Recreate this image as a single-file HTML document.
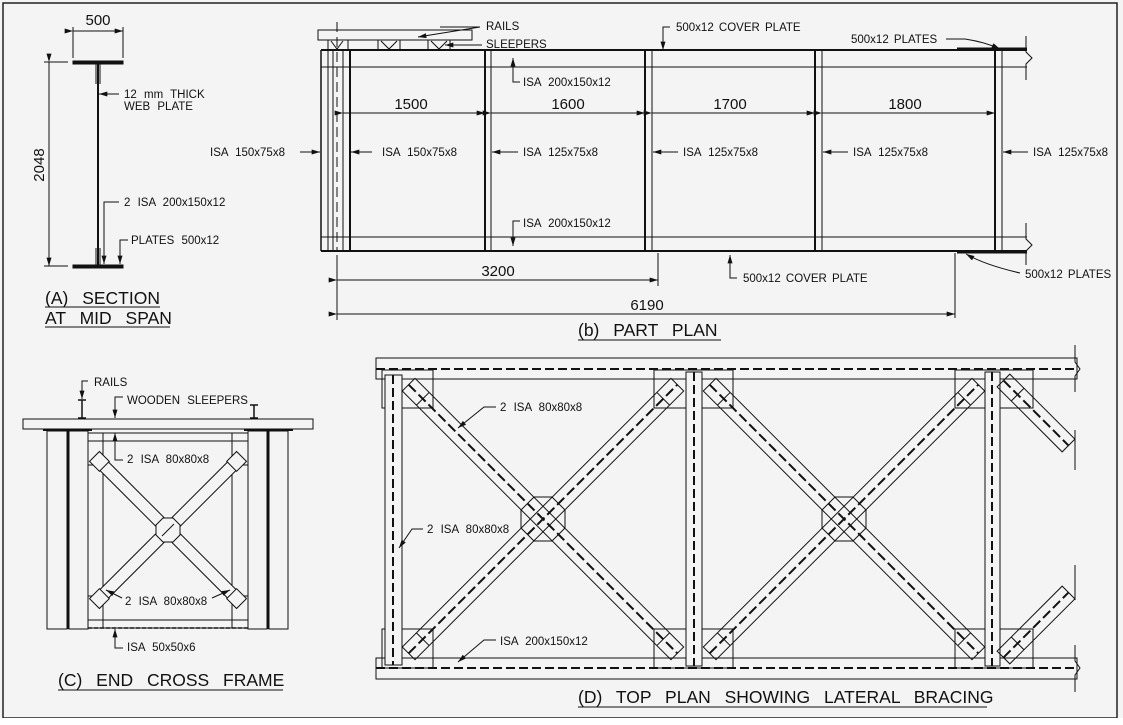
<!DOCTYPE html>
<html><head><meta charset="utf-8"><style>
html,body{margin:0;padding:0;background:#fff}
svg{display:block}
text{font-family:"Liberation Sans",sans-serif;fill:#111}
.l{word-spacing:4px}
.t{word-spacing:9px;font-size:17.5px}
</style></head><body>
<svg width="1123" height="725" viewBox="0 0 1123 725" xmlns="http://www.w3.org/2000/svg">
<defs>
<marker id="ar" viewBox="0 0 10 6" refX="10" refY="3" markerWidth="9" markerHeight="5" orient="auto" markerUnits="userSpaceOnUse"><path d="M0,0 L10,3 L0,6 z" fill="#111"/></marker>
</defs>
<rect x="0" y="0" width="1123" height="725" fill="#f4f4f4"/>
<rect x="3" y="3" width="1114" height="715" fill="#f4f4f4" stroke="#222" stroke-width="1.5"/>
<rect x="0" y="718" width="1123" height="7" fill="#fff"/>
<g stroke="#111" fill="none" stroke-width="1">
<!-- ===== A SECTION ===== -->
<rect x="73" y="61" width="50" height="3" fill="#111"/>
<rect x="73" y="265" width="50" height="3" fill="#111"/>
<line x1="98" y1="64" x2="98" y2="265" stroke-width="2"/>
<line x1="96" y1="64" x2="96" y2="84" /><line x1="100" y1="64" x2="100" y2="84"/>
<line x1="96" y1="248" x2="96" y2="265"/><line x1="100" y1="248" x2="100" y2="265"/>
<line x1="73" y1="27" x2="73" y2="58"/><line x1="123" y1="27" x2="123" y2="58"/>
<line x1="73" y1="31" x2="123" y2="31" marker-start="url(#ar)" marker-end="url(#ar)"/>
<line x1="44" y1="62" x2="68" y2="62"/><line x1="44" y1="266" x2="68" y2="266"/>
<line x1="49" y1="62" x2="49" y2="266" marker-start="url(#ar)" marker-end="url(#ar)"/>
<line x1="119" y1="94" x2="99" y2="94" marker-end="url(#ar)"/>
<polyline points="119,202 104,202 104,264" marker-end="url(#ar)"/>
<polyline points="128,240 120,240 120,264" marker-end="url(#ar)"/>
<line x1="45" y1="307" x2="160" y2="307"/>
<line x1="45" y1="327" x2="170" y2="327"/>
<!-- ===== B PART PLAN ===== -->
<rect x="318" y="30" width="154" height="10"/>
<rect x="328" y="40" width="20" height="10"/><rect x="378" y="40" width="22" height="10"/><rect x="428" y="40" width="22" height="10"/>
<path d="M331,41 l6,8 l6,-8 M381,41 l8,8 l8,-8 M431,41 l8,8 l8,-8"/>
<line x1="321" y1="50" x2="1027" y2="50" stroke-width="2"/>
<line x1="957" y1="49" x2="1027" y2="49" stroke-width="3"/>
<line x1="321" y1="67" x2="1027" y2="67"/>
<line x1="321" y1="237" x2="1027" y2="237"/>
<line x1="321" y1="251" x2="1027" y2="251" stroke-width="2"/>
<line x1="957" y1="252" x2="1027" y2="252" stroke-width="3"/>
<line x1="321" y1="50" x2="321" y2="251" stroke-width="1.5"/>
<line x1="328" y1="50" x2="328" y2="251"/><line x1="333" y1="50" x2="333" y2="251"/>
<line x1="337" y1="22" x2="337" y2="251" stroke-dasharray="10,5"/>
<line x1="343" y1="50" x2="343" y2="251"/><line x1="350" y1="50" x2="350" y2="251" stroke-width="2"/>
<line x1="485" y1="50" x2="485" y2="251" stroke-width="2"/><line x1="491" y1="50" x2="491" y2="251"/>
<line x1="645" y1="50" x2="645" y2="251" stroke-width="2"/><line x1="652" y1="50" x2="652" y2="251"/>
<line x1="815" y1="50" x2="815" y2="251" stroke-width="2"/><line x1="822" y1="50" x2="822" y2="251"/>
<line x1="995" y1="50" x2="995" y2="251" stroke-width="2"/><line x1="1002" y1="50" x2="1002" y2="251"/>
<polyline points="1026,36 1026,52 1032,58 1026,64 1026,80"/>
<polyline points="1026,223 1026,239 1032,245 1026,251 1026,265"/>
<line x1="343" y1="113" x2="485" y2="113" marker-start="url(#ar)" marker-end="url(#ar)"/>
<line x1="491" y1="113" x2="645" y2="113" marker-start="url(#ar)" marker-end="url(#ar)"/>
<line x1="652" y1="113" x2="815" y2="113" marker-start="url(#ar)" marker-end="url(#ar)"/>
<line x1="822" y1="113" x2="995" y2="113" marker-start="url(#ar)" marker-end="url(#ar)"/>
<line x1="300" y1="152" x2="320" y2="152" marker-end="url(#ar)"/>
<line x1="372" y1="152" x2="351" y2="152" marker-end="url(#ar)"/>
<line x1="518" y1="152" x2="492" y2="152" marker-end="url(#ar)"/>
<line x1="678" y1="152" x2="653" y2="152" marker-end="url(#ar)"/>
<line x1="848" y1="152" x2="823" y2="152" marker-end="url(#ar)"/>
<line x1="1028" y1="152" x2="1003" y2="152" marker-end="url(#ar)"/>
<polyline points="520,82 513,82 513,58" marker-end="url(#ar)"/>
<polyline points="520,221 513,221 513,246" marker-end="url(#ar)"/>
<line x1="337" y1="255" x2="337" y2="320"/>
<line x1="658" y1="253" x2="658" y2="286"/>
<line x1="955" y1="253" x2="955" y2="318"/>
<line x1="337" y1="280" x2="658" y2="280" marker-start="url(#ar)" marker-end="url(#ar)"/>
<line x1="337" y1="314" x2="955" y2="314" marker-start="url(#ar)" marker-end="url(#ar)"/>
<polyline points="737,278 730,278 730,255" marker-end="url(#ar)"/>
<polyline points="670,27 663,27 663,50" marker-end="url(#ar)"/>
<path d="M440,27 L480,27 M480,27 L418,37" marker-end="url(#ar)"/>
<line x1="482" y1="45" x2="445" y2="45" marker-end="url(#ar)"/>
<path d="M946,39 L965,39 Q985,42 1000,49" marker-end="url(#ar)"/>
<path d="M1020,273 Q985,265 966,254" marker-end="url(#ar)"/>
<line x1="578" y1="340" x2="721" y2="340"/>
<!-- ===== C END CROSS FRAME ===== -->
<rect x="23" y="419" width="290" height="10"/>
<rect x="47" y="431" width="20" height="198"/>
<line x1="68" y1="431" x2="68" y2="629" stroke-width="2.5"/>
<rect x="69" y="431" width="19" height="198"/>
<rect x="248" y="431" width="19" height="198"/>
<line x1="268" y1="431" x2="268" y2="629" stroke-width="2.5"/>
<rect x="269" y="431" width="19" height="198"/>
<line x1="43" y1="430" x2="92" y2="430" stroke-width="2"/>
<line x1="244" y1="430" x2="293" y2="430" stroke-width="2"/>
<rect x="88" y="433" width="160" height="8"/>
<rect x="88" y="620" width="160" height="8"/>
<line x1="88" y1="628" x2="248" y2="628" stroke-dasharray="4,2" stroke-width="1.5"/>
<line x1="103" y1="433" x2="103" y2="628"/><line x1="232" y1="433" x2="232" y2="628"/>
<line x1="88" y1="465" x2="103" y2="465"/><line x1="232" y1="465" x2="248" y2="465"/>
<line x1="88" y1="596" x2="103" y2="596"/><line x1="232" y1="596" x2="248" y2="596"/>
<g transform="translate(168,530) rotate(45)">
<rect x="-102" y="-6" width="204" height="12" fill="#f4f4f4"/>
<rect x="-104" y="-7" width="14" height="14" fill="#f4f4f4"/><rect x="90" y="-7" width="14" height="14" fill="#f4f4f4"/>
</g>
<g transform="translate(168,530) rotate(-45)">
<rect x="-102" y="-6" width="204" height="12" fill="#f4f4f4"/>
<rect x="-104" y="-7" width="14" height="14" fill="#f4f4f4"/><rect x="90" y="-7" width="14" height="14" fill="#f4f4f4"/>
</g>
<polygon points="163,518 173,518 180,525 180,535 173,542 163,542 156,535 156,525" fill="#f4f4f4"/>
<line x1="162" y1="536" x2="174" y2="524"/>
<path d="M78,400 h8 M82,400 v18 M78,418 h8" stroke-width="1.5"/>
<path d="M250,405 h8 M254,405 v13 M250,418 h8" stroke-width="1.5"/>
<polyline points="88,381 82,381 82,399" marker-end="url(#ar)"/>
<polyline points="123,397 115,397 115,418" marker-end="url(#ar)"/>
<polyline points="123,460 115,460 115,433" marker-end="url(#ar)"/>
<line x1="122" y1="598" x2="106" y2="590" marker-end="url(#ar)"/>
<line x1="212" y1="598" x2="230" y2="590" marker-end="url(#ar)"/>
<polyline points="123,648 115,648 115,629" marker-end="url(#ar)"/>
<line x1="58" y1="690" x2="283" y2="690"/>
<!-- ===== D TOP PLAN ===== -->
<rect x="376" y="358" width="701" height="21"/>
<rect x="376" y="658" width="701" height="21"/>
<line x1="376" y1="369" x2="1077" y2="369" stroke-dasharray="9,4" stroke-width="2"/>
<line x1="376" y1="668" x2="1077" y2="668" stroke-dasharray="9,4" stroke-width="2"/>
<polyline points="1075,345 1075,362 1080,369 1075,376 1075,392"/>
<polyline points="1075,645 1075,661 1080,668 1075,675 1075,692"/>
<polyline points="1075,430 1075,470"/><polyline points="1075,565 1075,600"/>
<rect x="382" y="370" width="51" height="38"/><rect x="382" y="629" width="51" height="39"/>
<rect x="654" y="370" width="79" height="38"/><rect x="654" y="629" width="79" height="39"/>
<rect x="955" y="370" width="78" height="38"/><rect x="955" y="629" width="78" height="39"/>
<rect x="385" y="375" width="17" height="290" fill="#f4f4f4"/>
<line x1="393" y1="375" x2="393" y2="665" stroke-dasharray="9,4" stroke-width="2"/>
<rect x="686" y="372" width="16" height="294" fill="#f4f4f4"/>
<line x1="694" y1="372" x2="694" y2="666" stroke-dasharray="9,4" stroke-width="2"/>
<rect x="985" y="372" width="15" height="294" fill="#f4f4f4"/>
<line x1="992" y1="372" x2="992" y2="666" stroke-dasharray="9,4" stroke-width="2"/>
<g id="xb">
<g transform="translate(543,519) rotate(45)">
<rect x="-190" y="-9" width="380" height="18" fill="none"/>
<line x1="-190" y1="0" x2="190" y2="0" stroke-dasharray="10,4" stroke-width="2"/>
<line x1="-170" y1="-9" x2="-170" y2="9"/><line x1="170" y1="-9" x2="170" y2="9"/>
</g>
<g transform="translate(543,519) rotate(-45)">
<rect x="-190" y="-9" width="380" height="18" fill="none"/>
<line x1="-190" y1="0" x2="190" y2="0" stroke-dasharray="10,4" stroke-width="2"/>
<line x1="-170" y1="-9" x2="-170" y2="9"/><line x1="170" y1="-9" x2="170" y2="9"/>
</g>
<polygon points="534,497 552,497 565,510 565,528 552,541 534,541 521,528 521,510" fill="none"/>
</g>
<use href="#xb" transform="translate(301,0)"/>
<g transform="translate(1036,413) rotate(45)">
<rect x="-46" y="-9" width="92" height="18"/>
<line x1="-46" y1="0" x2="46" y2="0" stroke-dasharray="10,4" stroke-width="2"/>
<line x1="-26" y1="-9" x2="-26" y2="9"/>
</g>
<g transform="translate(1036,625) rotate(-45)">
<rect x="-46" y="-9" width="92" height="18"/>
<line x1="-46" y1="0" x2="46" y2="0" stroke-dasharray="10,4" stroke-width="2"/>
<line x1="-26" y1="-9" x2="-26" y2="9"/>
</g>
<polyline points="496,407 484,407 458,428" marker-end="url(#ar)"/>
<polyline points="423,529 412,529 399,548" marker-end="url(#ar)"/>
<polyline points="496,640 484,640 458,662" marker-end="url(#ar)"/>
<line x1="578" y1="707" x2="987" y2="707"/>
</g>
<g font-size="11.5" class="l">
<text x="98" y="25" font-size="15" text-anchor="middle">500</text>
<text transform="translate(44,165) rotate(-90)" font-size="15" text-anchor="middle">2048</text>
<text x="124" y="98">12 mm THICK</text>
<text x="124" y="110">WEB PLATE</text>
<text x="124" y="206">2 ISA 200x150x12</text>
<text x="131" y="244">PLATES 500x12</text>
<text x="45" y="304" class="t">(A) SECTION</text>
<text x="45" y="324" class="t">AT MID SPAN</text>
<text x="486" y="30">RAILS</text>
<text x="486" y="48">SLEEPERS</text>
<text x="676" y="31" style="word-spacing:2px">500x12 COVER PLATE</text>
<text x="851" y="43" style="word-spacing:2px">500x12 PLATES</text>
<text x="523" y="86">ISA 200x150x12</text>
<text x="523" y="227">ISA 200x150x12</text>
<text x="411" y="109" font-size="15" text-anchor="middle">1500</text>
<text x="568" y="109" font-size="15" text-anchor="middle">1600</text>
<text x="730" y="109" font-size="15" text-anchor="middle">1700</text>
<text x="905" y="109" font-size="15" text-anchor="middle">1800</text>
<text x="210" y="156">ISA 150x75x8</text>
<text x="382" y="156">ISA 150x75x8</text>
<text x="523" y="156">ISA 125x75x8</text>
<text x="683" y="156">ISA 125x75x8</text>
<text x="853" y="156">ISA 125x75x8</text>
<text x="1033" y="156">ISA 125x75x8</text>
<text x="498" y="276" font-size="15" text-anchor="middle">3200</text>
<text x="647" y="310" font-size="15" text-anchor="middle">6190</text>
<text x="743" y="282" style="word-spacing:2px">500x12 COVER PLATE</text>
<text x="1025" y="278" style="word-spacing:2px">500x12 PLATES</text>
<text x="578" y="336" class="t">(b) PART PLAN</text>
<text x="94" y="386">RAILS</text>
<text x="127" y="404">WOODEN SLEEPERS</text>
<text x="127" y="463">2 ISA 80x80x8</text>
<text x="125" y="605">2 ISA 80x80x8</text>
<text x="127" y="651">ISA 50x50x6</text>
<text x="58" y="686" class="t">(C) END CROSS FRAME</text>
<text x="500" y="411">2 ISA 80x80x8</text>
<text x="427" y="533">2 ISA 80x80x8</text>
<text x="500" y="645">ISA 200x150x12</text>
<text x="578" y="703" class="t">(D) TOP PLAN SHOWING LATERAL BRACING</text>
</g>
</svg>
</body></html>
